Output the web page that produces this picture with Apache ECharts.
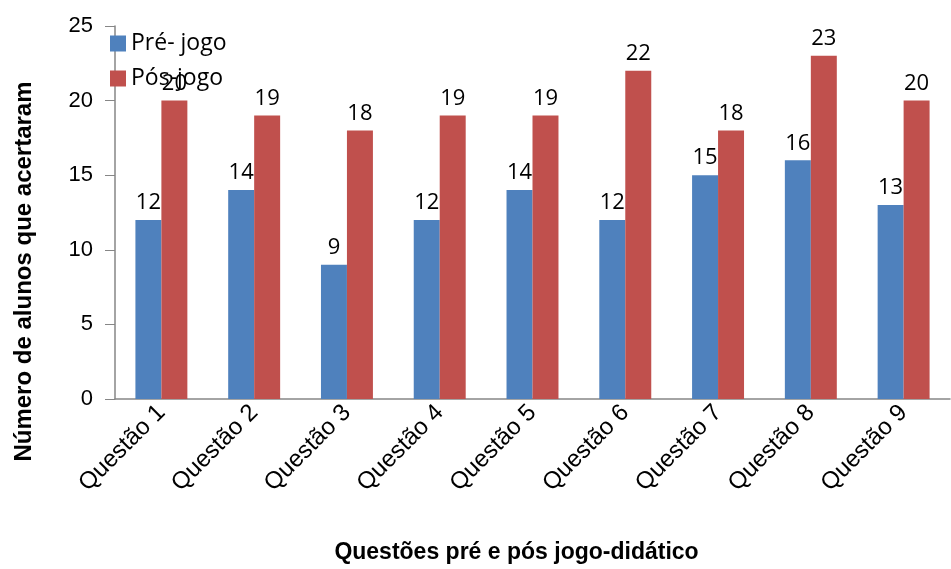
<!DOCTYPE html>
<html>
<head>
<meta charset="utf-8">
<script src="https://cdn.jsdelivr.net/npm/echarts@6/dist/echarts.min.js"></script>
<style>
  html, body { margin: 0; padding: 0; background: #fff; }
  #main { width: 951px; height: 569px; }
</style>
</head>
<body>
<div id="main"></div>
<script>
// dados
const questoes = ['Questão 1', 'Questão 2', 'Questão 3', 'Questão 4', 'Questão 5', 'Questão 6', 'Questão 7', 'Questão 8', 'Questão 9'];
const preJogo = [12, 14, 9, 12, 14, 12, 15, 16, 13];
const posJogo = [20, 19, 18, 19, 19, 22, 18, 23, 20];

const myChart = echarts.init(document.getElementById('main'));

const labelStyle = {
    show: true,
    position: 'top',
    distance: 6,
    color: '#000',
    fontSize: 22,
    fontFamily: 'Open Sans'
};

myChart.setOption({
    animation: false,
    grid: { left: 115, right: 1, top: 26, bottom: 170 },
    legend: {
        orient: 'vertical',
        left: 105,
        top: 27,
        itemWidth: 16,
        itemHeight: 16,
        itemGap: 12,
        icon: 'rect',
        textStyle: { fontSize: 23, fontFamily: 'Open Sans', color: '#000' },
        data: ['Pré- jogo', 'Pós-jogo']
    },
    xAxis: {
        type: 'category',
        data: questoes,
        name: 'Questões pré e pós jogo-didático',
        nameLocation: 'middle',
        nameGap: 142,
        nameTextStyle: { fontSize: 23, fontWeight: 'bold', fontFamily: 'Liberation Sans', color: '#000', padding: [0, 32, 0, 0] },
        axisLine: { lineStyle: { color: '#868686', width: 1.5 } },
        axisTick: { show: false },
        axisLabel: { rotate: 45, fontSize: 24, fontFamily: 'Liberation Sans', color: '#000', margin: 10 }
    },
    yAxis: {
        type: 'value',
        min: 0,
        max: 25,
        interval: 5,
        name: 'Número de alunos que acertaram',
        nameLocation: 'middle',
        nameGap: 79,
        nameTextStyle: { fontSize: 24, fontWeight: 'bold', fontFamily: 'Liberation Sans', color: '#000', padding: [0, 118, 0, 0] },
        axisLine: { show: true, lineStyle: { color: '#868686', width: 1.5 } },
        axisTick: { show: true, length: 10, lineStyle: { color: '#868686' } },
        axisLabel: { fontSize: 22, fontFamily: 'Liberation Sans', color: '#000', margin: 22 },
        splitLine: { show: false }
    },
    series: [
        {
            name: 'Pré- jogo',
            type: 'bar',
            data: preJogo,
            barGap: '0%',
            barCategoryGap: '44%',
            itemStyle: { color: '#4F81BD' },
            label: labelStyle
        },
        {
            name: 'Pós-jogo',
            type: 'bar',
            data: posJogo,
            itemStyle: { color: '#C0504D' },
            label: labelStyle
        }
    ]
});
</script>
</body>
</html>
